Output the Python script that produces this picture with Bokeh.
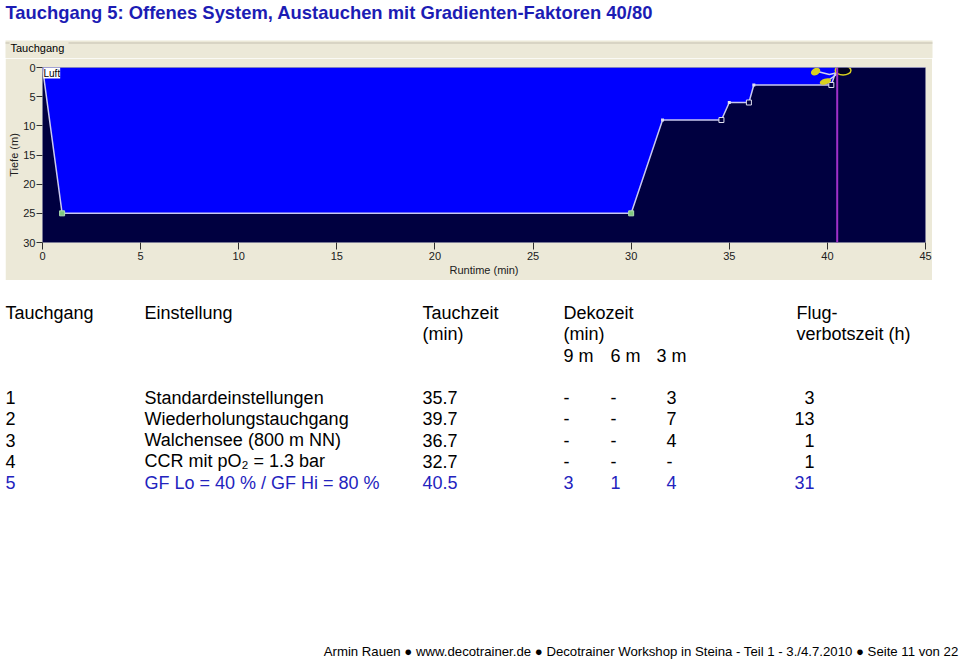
from bokeh.plotting import figure
from bokeh.layouts import column, row
from bokeh.models import Range1d, FixedTicker, Label, BoxAnnotation, Span, Spacer
from bokeh.embed import file_html
from bokeh.resources import INLINE

# ---------------- data ----------------
runtime_min = [0.0, 1.0, 30.0, 31.6, 34.6, 35.0, 36.0, 36.25, 40.2, 40.5]
depth_m = [0, 25, 25, 9, 9, 6, 6, 3, 3, 0]
surface_m = [0] * len(runtime_min)
bottom_idx = [1, 2]          # reaching / leaving the bottom
stop_start_idx = [3, 5, 7]   # arriving at the deco stops
stop_end_idx = [4, 6, 8]     # leaving the deco stops
x_ticks = [0, 5, 10, 15, 20, 25, 30, 35, 40, 45]
y_ticks = [0, 5, 10, 15, 20, 25, 30]
x_max = 45
y_max = 30

title_text = "Tauchgang 5: Offenes System, Austauchen mit Gradienten-Faktoren 40/80"
group_text = "Tauchgang"
tauchgang_nr = ["1", "2", "3", "4", "5"]
einstellung = ["Standardeinstellungen", "Wiederholungstauchgang", "Walchensee (800 m NN)",
               "CCR mit pO\u2082 = 1.3 bar", "GF Lo = 40 % / GF Hi = 80 %"]
tauchzeit = [35.7, 39.7, 36.7, 32.7, 40.5]
deko_9m = ["-", "-", "-", "-", "3"]
deko_6m = ["-", "-", "-", "-", "1"]
deko_3m = ["3", "7", "4", "-", "4"]
flugverbot_h = [3, 13, 1, 1, 31]
highlight_row = 4
footer_text = ("Armin Rauen \u25cf www.decotrainer.de \u25cf Decotrainer Workshop in Steina - "
               "Teil 1 - 3./4.7.2010 \u25cf Seite 11 von 22")

# ---------------- layout constants (page pixels) ----------------
W, H = 960, 660
FL, FR, FT, FB = 42, 925, 67, 242          # plot frame
PL, PT, PR, PB = 5, 40, 932, 280           # grey window panel
HEAD_H = 58                                # title + group box header strip
FONT = "Liberation Sans"
BEIGE = "#ECE9D8"
NAVY = "#000040"
BLUE = "#0000FF"
TITLE_BLUE = "#1C1CB4"
ROW_BLUE = "#2323BE"


def blank(width, height):
    f = figure(width=width, height=height, x_range=Range1d(0, width), y_range=Range1d(height, 0),
               output_backend="svg", toolbar_location=None, x_axis_type=None, y_axis_type=None,
               min_border=0, outline_line_color=None, background_fill_color="white",
               border_fill_color="white")
    f.grid.visible = False
    return f


def lab(f, text, x, y, size="18px", color="black", align="left", style="normal"):
    f.add_layout(Label(x=x, y=y, text=text, text_font=FONT, text_font_size=size,
                       text_color=color, text_align=align, text_baseline="middle",
                       text_font_style=style))


# ---------------- header (title + group box top) ----------------
head = blank(W, HEAD_H)
head.add_layout(BoxAnnotation(left=PL, right=PR, top=PT, bottom=HEAD_H, fill_color=BEIGE,
                              fill_alpha=1, line_color=None, level="underlay"))
for l, r in [(PL, 9), (68, PR)]:
    head.add_layout(BoxAnnotation(left=l, right=r, top=42, bottom=43, fill_color="#C4C0B0",
                                  fill_alpha=1, line_color=None, level="underlay"))
lab(head, title_text, 5, 12, size="18.4px", color=TITLE_BLUE, style="bold")
lab(head, group_text, 10, 47, size="11px")

# ---------------- chart ----------------
p = figure(width=PR - PL, height=PB - HEAD_H, x_range=Range1d(0, x_max), y_range=Range1d(y_max, 0),
           output_backend="svg", toolbar_location=None,
           min_border_left=FL - PL, min_border_right=PR - FR,
           min_border_top=FT - HEAD_H, min_border_bottom=PB - FB,
           background_fill_color=NAVY, border_fill_color=BEIGE, outline_line_color=None)
p.grid.visible = False

for ax in (p.xaxis[0], p.yaxis[0]):
    ax.axis_line_color = None
    ax.major_tick_in = 0
    ax.major_tick_out = 7
    ax.major_tick_line_color = "#303030"
    ax.minor_tick_line_color = None
    ax.major_label_text_font = FONT
    ax.major_label_text_font_size = "11px"
    ax.major_label_text_color = "#202020"
    ax.major_label_standoff = 2
    ax.axis_label_text_font = FONT
    ax.axis_label_text_font_size = "11px"
    ax.axis_label_text_font_style = "normal"
    ax.axis_label_text_color = "#202020"
p.xaxis.ticker = FixedTicker(ticks=x_ticks)
p.yaxis.ticker = FixedTicker(ticks=y_ticks)
p.xaxis.axis_label = "Runtime (min)"
p.yaxis.axis_label = "Tiefe (m)"
p.xaxis.axis_label_standoff = 1
p.yaxis.major_tick_out = 6
p.yaxis.major_label_standoff = 1
p.yaxis.axis_label_standoff = 0

p.varea(x=runtime_min, y1=surface_m, y2=depth_m, fill_color=BLUE, fill_alpha=1)
p.add_layout(Span(location=0, dimension="width", line_color="#A8A8D8", line_width=1))
p.add_layout(Span(location=runtime_min[-1], dimension="height", line_color="#A030C8", line_width=2))
p.line(runtime_min, depth_m, line_color="#C8C8F0", line_width=1.5)
p.scatter([runtime_min[i] for i in bottom_idx], [depth_m[i] for i in bottom_idx],
          marker="square", size=5, fill_color="#80C880", line_color="#B0E0B0")
p.scatter([runtime_min[i] for i in stop_end_idx], [depth_m[i] for i in stop_end_idx],
          marker="square", size=5, fill_color=NAVY, line_color="#E0E0F0", line_width=1)
p.scatter([runtime_min[i] for i in stop_start_idx], [depth_m[i] for i in stop_start_idx],
          marker="square", size=3, fill_color="#E0E0F0", line_color=None)

# little diver at the surface (decoration, placed relative to the end of the dive)
t_end = runtime_min[-1]
p.multi_line([[t_end - 1.1, t_end - 0.4, t_end + 0.1], [t_end - 0.55, t_end - 0.2, t_end + 0.1]],
             [[0.6, 1.2, 0.8], [2.4, 1.6, 0.8]], line_color="#D0D0F0", line_width=1.5)
p.ellipse(x=[t_end - 1.1, t_end - 0.6], y=[0.7, 2.4], width=[0.5, 0.6], height=[1.2, 1.0],
          angle=[0.5, 0.3], fill_color="#D8D020", line_color=None)
p.ellipse(x=[t_end + 0.3], y=[0.5], width=[0.8], height=[1.6], fill_color="#000020",
          line_color="#D8D020", line_width=1.5)

p.add_layout(Label(x=0, y=0, text="Luft", text_font=FONT, text_font_size="10px",
                   text_color="black", text_baseline="top", x_offset=1,
                   background_fill_color="white", background_fill_alpha=1))

# ---------------- table + footer (y = text centre, page pixels) ----------------
T0 = PB
tab = blank(W, H - T0)
lab(tab, "Tauchgang", 5, 312 - T0)
lab(tab, "Einstellung", 144, 312 - T0)
lab(tab, "Tauchzeit", 422, 312 - T0)
lab(tab, "(min)", 422, 333 - T0)
lab(tab, "Dekozeit", 563, 312 - T0)
lab(tab, "(min)", 563, 333 - T0)
lab(tab, "9 m", 563, 355 - T0)
lab(tab, "6 m", 610, 355 - T0)
lab(tab, "3 m", 656, 355 - T0)
lab(tab, "Flug-", 796, 312 - T0)
lab(tab, "verbotszeit (h)", 796, 333 - T0)

for i in range(len(tauchgang_nr)):
    y = 397 + i * 21.25 - T0
    c = ROW_BLUE if i == highlight_row else "black"
    lab(tab, tauchgang_nr[i], 5, y, color=c)
    lab(tab, einstellung[i], 144, y, color=c)
    lab(tab, f"{tauchzeit[i]:.1f}", 422, y, color=c)
    lab(tab, deko_9m[i], 563, y, color=c)
    lab(tab, deko_6m[i], 610, y, color=c)
    lab(tab, deko_3m[i], 666, y, color=c)
    lab(tab, str(flugverbot_h[i]), 814, y, color=c, align="right")

lab(tab, footer_text, 958, 651 - T0, size="13.2px", align="right")

layout = column(head, row(Spacer(width=PL, height=PB - HEAD_H), p), tab, spacing=0)
open("out.html", "w").write(file_html(layout, INLINE))
